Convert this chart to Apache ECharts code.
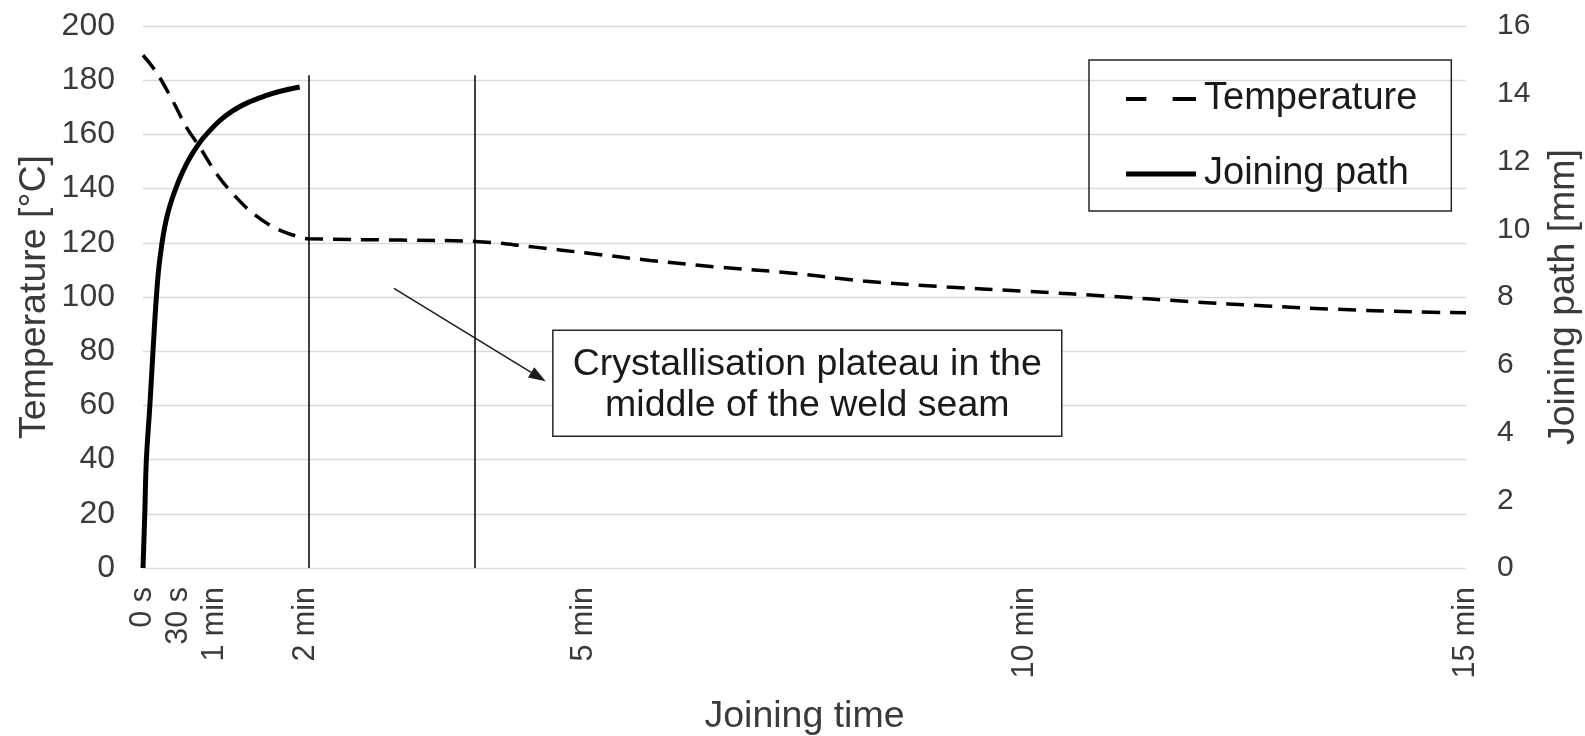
<!DOCTYPE html>
<html>
<head>
<meta charset="utf-8">
<script src="https://cdn.jsdelivr.net/npm/echarts@6/dist/echarts.min.js"></script>
<style>
  html, body { margin: 0; padding: 0; background: #ffffff; }
  #chart { width: 1585px; height: 736px; }
</style>
</head>
<body>
<div id="chart"></div>
<script>
// Temperature in the middle of the weld seam, joining time in seconds
const tempTime   = [0, 9, 20, 29.5, 38.6, 50, 61, 75, 91, 106.6, 113, 175, 226, 265, 302, 345, 390, 442, 490, 547, 601, 660, 712, 764, 810, 866, 900];
const tempValues = [189.2, 183, 172.6, 162.7, 155.3, 145.5, 138.2, 130.8, 125.2, 122.1, 121.5, 121, 120.5, 118.5, 116.2, 113.5, 111.1, 108.8, 105.9, 103.7, 102.1, 100.2, 98.3, 96.7, 95.5, 94.5, 94.2];

// Joining path (mm) over the joining time
const pathTime   = [0, 1.2, 2.3, 4.6, 6.8, 9.1, 11.4, 15.9, 22.7, 31.8, 43.1, 61.2, 84, 106.6];
const pathValues = [0, 1.6, 3.2, 4.75, 6.4, 8.0, 9.1, 10.3, 11.25, 12.1, 12.8, 13.5, 13.95, 14.2];

// Time axis labels
const timeTickValues = [0, 24, 49, 110.5, 300, 600, 900];
const timeTickLabels = ['0 s', '30 s', '1 min', '2 min', '5 min', '10 min', '15 min'];

// Start and end of the crystallisation plateau
const plateauBounds = [112.7, 225.7];
const plateauLineTop = 181.8;

const FONT = '"Liberation Sans", Arial, sans-serif';
const TICK_COLOR = '#3a3a3a';

const zip = (xs, ys) => xs.map((x, i) => [x, ys[i]]);

const chart = echarts.init(document.getElementById('chart'), null, { renderer: 'canvas' });

chart.setOption({
  animation: false,
  backgroundColor: '#ffffff',
  grid: { left: 143, right: 119, top: 26, bottom: 168, containLabel: false, outerBoundsMode: 'none' },
  legend: {
    orient: 'vertical',
    left: 1089,
    top: 60,
    padding: [18, 34, 16, 37],
    itemGap: 33,
    itemWidth: 70,
    itemHeight: 5,
    borderColor: '#262626',
    borderWidth: 1.5,
    itemStyle: { borderWidth: 0 },
    textStyle: { fontSize: 38, fontFamily: FONT, color: '#1a1a1a', lineHeight: 42, padding: [0, 0, 0, 3] },
    data: [
      { name: 'Temperature', icon: 'path://M0,0H20V4H0Z M46,0H69V4H46Z' },
      { name: 'Joining path', icon: 'path://M0,0H70V5H0Z' }
    ]
  },
  xAxis: {
    type: 'value',
    min: 0,
    max: 900,
    axisLine: { show: false },
    axisTick: { show: false },
    splitLine: { show: false },
    axisLabel: {
      customValues: timeTickValues,
      formatter: v => {
        const i = timeTickValues.indexOf(v);
        return i >= 0 ? timeTickLabels[i] : '';
      },
      rotate: 90,
      margin: 19,
      fontSize: 30.5,
      fontFamily: FONT,
      color: TICK_COLOR,
      showMinLabel: true,
      showMaxLabel: true
    },
    name: 'Joining time',
    nameLocation: 'middle',
    nameGap: 130,
    nameTextStyle: { fontSize: 37.5, fontFamily: FONT, color: TICK_COLOR }
  },
  yAxis: [
    {
      type: 'value',
      min: 0,
      max: 200,
      interval: 20,
      position: 'left',
      axisLine: { show: false },
      axisTick: { show: false },
      splitLine: { show: true, lineStyle: { color: '#d9d9d9', width: 1.3 } },
      axisLabel: { margin: 28, fontSize: 32, fontFamily: FONT, color: TICK_COLOR },
      name: 'Temperature [°C]',
      nameLocation: 'middle',
      nameRotate: 90,
      nameGap: 89,
      nameMoveOverlap: false,
      nameTextStyle: { fontSize: 37.5, fontFamily: FONT, color: TICK_COLOR }
    },
    {
      type: 'value',
      min: 0,
      max: 16,
      interval: 2,
      position: 'right',
      axisLine: { show: false },
      axisTick: { show: false },
      splitLine: { show: false },
      axisLabel: { margin: 31, fontSize: 30, fontFamily: FONT, color: TICK_COLOR },
      name: 'Joining path [mm]',
      nameLocation: 'middle',
      nameRotate: 90,
      nameGap: 79,
      nameMoveOverlap: false,
      nameTextStyle: { fontSize: 37.5, fontFamily: FONT, color: TICK_COLOR }
    }
  ],
  series: [
    {
      name: 'Temperature',
      type: 'line',
      yAxisIndex: 0,
      data: zip(tempTime, tempValues),
      symbol: 'none',
      showSymbol: false,
      smooth: 0.4,
      itemStyle: { color: '#000000' },
      lineStyle: { color: '#000000', width: 3.5, type: [18, 10] },
      z: 3,
      markLine: {
        silent: true,
        symbol: ['none', 'none'],
        label: { show: false },
        lineStyle: { color: '#000000', width: 1.5, type: 'solid' },
        data: plateauBounds.map(t => [{ coord: [t, 0] }, { coord: [t, plateauLineTop] }])
      }
    },
    {
      name: 'Joining path',
      type: 'line',
      yAxisIndex: 1,
      data: zip(pathTime, pathValues),
      symbol: 'none',
      showSymbol: false,
      smooth: 0.4,
      itemStyle: { color: '#000000' },
      lineStyle: { color: '#000000', width: 5, type: 'solid' },
      z: 4
    }
  ]
});

// Callout: arrow pointing at the plateau and the explanatory box
const toPx = (x, y) => chart.convertToPixel({ xAxisIndex: 0, yAxisIndex: 0 }, [x, y]);
const arrowFrom = toPx(170.7, 103.2);
const arrowTo = toPx(273.9, 68.9);
const boxA = toPx(278.8, 87.7);
const boxB = toPx(625, 48.6);

const dx = arrowTo[0] - arrowFrom[0];
const dy = arrowTo[1] - arrowFrom[1];
const len = Math.hypot(dx, dy);
const ux = dx / len, uy = dy / len;
const headLen = 17, headHalf = 6;
const base = [arrowTo[0] - ux * headLen, arrowTo[1] - uy * headLen];

const boxX = Math.min(boxA[0], boxB[0]);
const boxY = Math.min(boxA[1], boxB[1]);
const boxW = Math.abs(boxB[0] - boxA[0]);
const boxH = Math.abs(boxB[1] - boxA[1]);

chart.setOption({
  graphic: [
    {
      type: 'line',
      shape: { x1: arrowFrom[0], y1: arrowFrom[1], x2: base[0], y2: base[1] },
      style: { stroke: '#1a1a1a', lineWidth: 1.5 },
      z: 10
    },
    {
      type: 'polygon',
      shape: {
        points: [
          arrowTo,
          [base[0] - uy * headHalf, base[1] + ux * headHalf],
          [base[0] + uy * headHalf, base[1] - ux * headHalf]
        ]
      },
      style: { fill: '#1a1a1a' },
      z: 10
    },
    {
      type: 'rect',
      shape: { x: boxX, y: boxY, width: boxW, height: boxH },
      style: { fill: '#ffffff', stroke: '#262626', lineWidth: 1.5 },
      z: 10
    },
    {
      type: 'text',
      x: boxX + boxW / 2,
      y: boxY + boxH / 2 + 2,
      style: {
        text: 'Crystallisation plateau in the\nmiddle of the weld seam',
        font: '37.5px ' + FONT,
        fill: '#1a1a1a',
        align: 'center',
        verticalAlign: 'middle',
        lineHeight: 41
      },
      z: 11
    }
  ]
});
</script>
</body>
</html>
